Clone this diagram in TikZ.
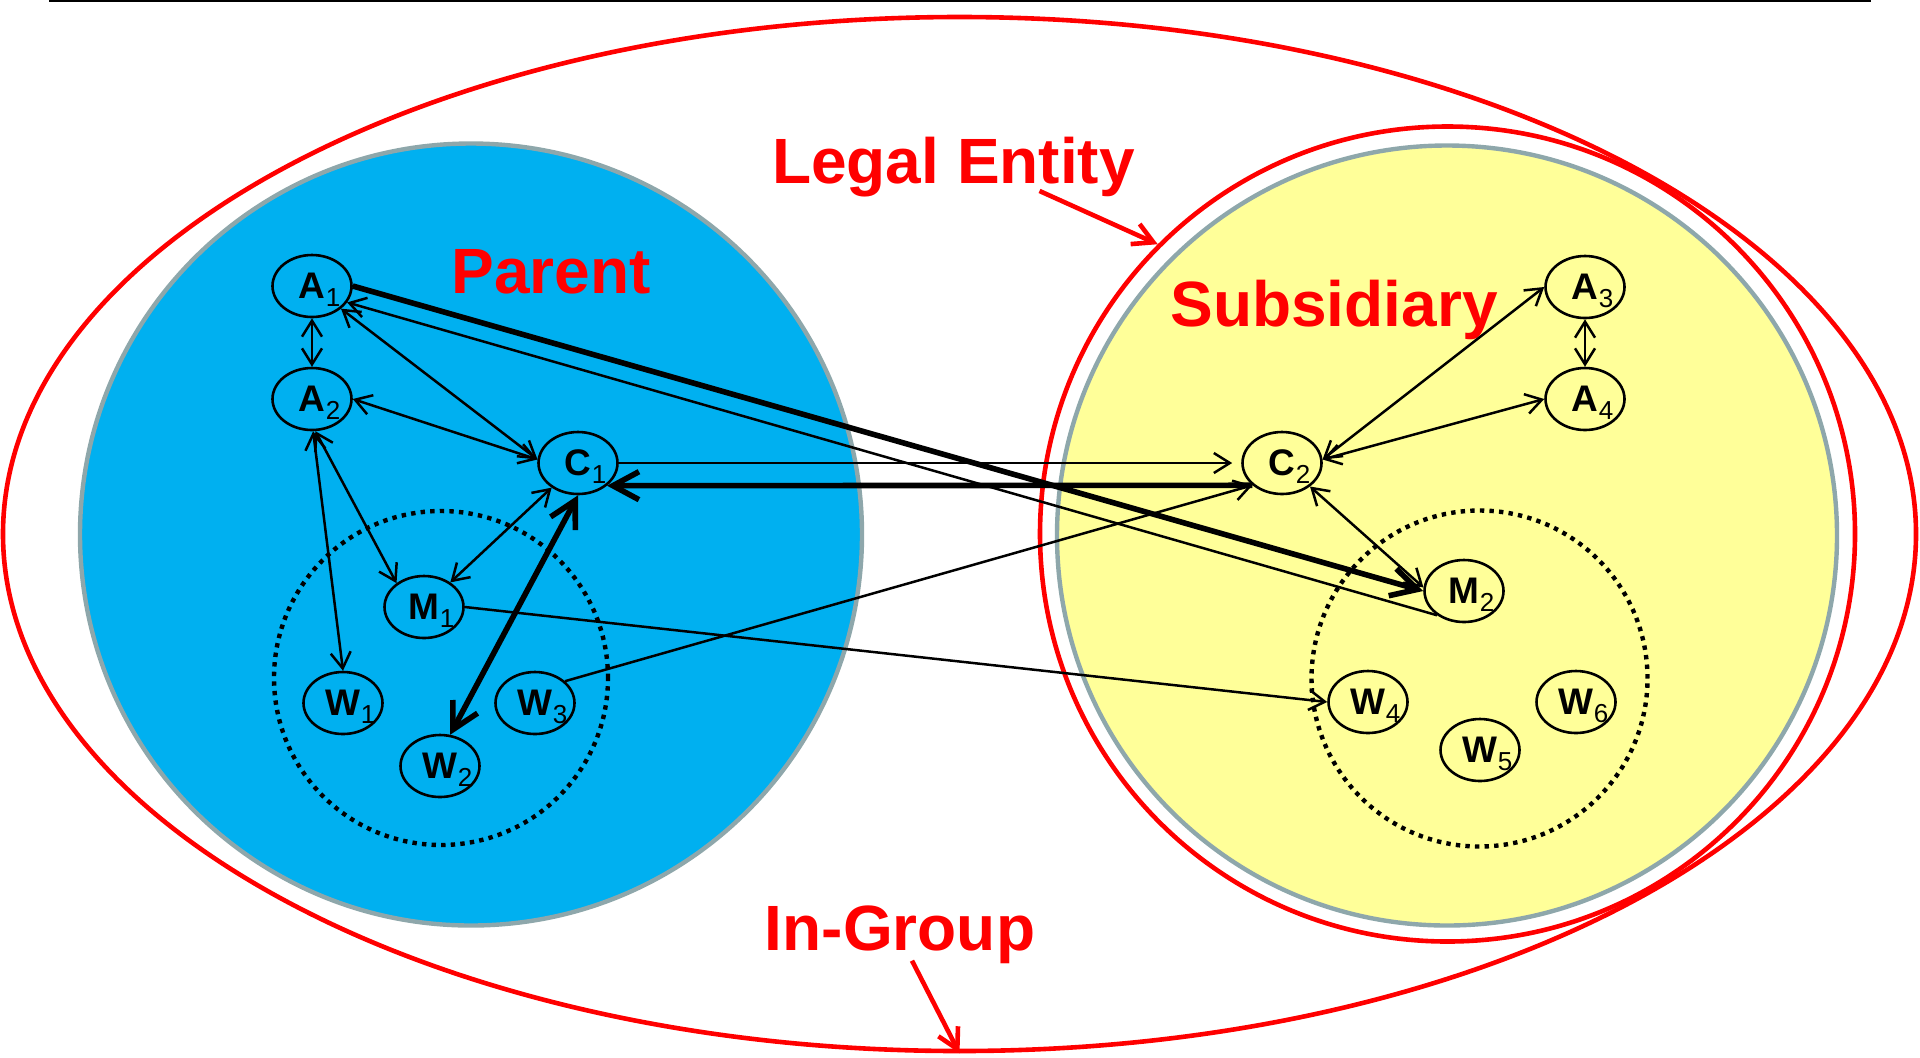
\documentclass[tikz,border=0pt]{standalone}
\usepackage{fontspec}
\setmainfont{Liberation Sans}
\usetikzlibrary{arrows.meta,shapes.geometric}

\definecolor{parentblue}{RGB}{0,176,240}
\definecolor{subyellow}{RGB}{255,255,153}
\definecolor{rimgray}{RGB}{142,167,171}

% letter with a lowered, regular-weight index hanging to its right
\newcommand\agent[2]{#1\rlap{\smash{\raisebox{-4pt}{\mdseries\fontsize{13}{13}\selectfont\kern0.2pt#2}}}}

\tikzset{
  tipS/.tip={Straight Barb[length=8pt,width=10pt]},
  tipL/.tip={Straight Barb[length=13pt,width=14pt]},
  tipR/.tip={Straight Barb[length=10pt,width=11pt]},
  agentnode/.style={ellipse, draw, line width=1.3pt, minimum width=39.5pt,
    minimum height=31pt, inner sep=0pt, font=\bfseries\fontsize{18.5}{18.5}\selectfont},
  link/.style={line width=1.25pt},
  heavy/.style={line width=2.8pt},
  callout/.style={red, line width=2.3pt, -tipR},
  title/.style={red, inner sep=0pt, font=\bfseries\fontsize{32}{32}\selectfont},
  dotring/.style={circle, draw, line width=2.2pt, dash pattern=on 2.2pt off 2.6pt, inner sep=0pt},
  company/.style={circle, draw=rimgray, line width=2.2pt, inner sep=0pt},
}

\begin{document}
\begin{tikzpicture}[x=0.5pt,y=-0.5pt]
\useasboundingbox (0,0) rectangle (1920,1057);

% rule along the top
\draw[line width=1.3pt] (49,1) -- (1871,1);

% companies and groupings
\node[company, fill=parentblue, minimum size=391pt] (parent) at (471,534.5) {};
\node[circle, draw=red, line width=2.3pt, minimum size=407.5pt, inner sep=0pt] (legal) at (1447.5,534) {};
\node[company, fill=subyellow, minimum size=390pt] (subsid) at (1447,535.5) {};
\node[ellipse, draw=red, line width=2.3pt, minimum width=956.5pt, minimum height=517pt, inner sep=0pt] (ingroup) at (959.5,534) {};

\node[dotring, minimum size=167pt] (poolL) at (441,678) {};
\node[dotring, minimum size=168pt] (poolR) at (1479.5,678.5) {};

% titles
\node[title, anchor=base] (parentlab) at (551,293) {Parent};
\node[title, anchor=base] (sublab) at (1334,326) {Subsidiary};
\node[title, anchor=base] (legallab) at (953.5,183) {Legal Entity};
\node[title, anchor=base] (grouplab) at (900,950) {In-Group};

\draw[callout] ([xshift=43pt,yshift=3pt]legallab.south) -- (legal.135);
\draw[callout] ([xshift=6pt,yshift=1.5pt]grouplab.south) -- (ingroup.south);

% parent side
\node[agentnode] (A1) at (312,286) {\agent{A}{1}};
\node[agentnode] (A2) at (312,399) {\agent{A}{2}};
\node[agentnode] (C1) at (578,463) {\agent{C}{1}};
\node[agentnode] (M1) at (424,607) {\agent{M}{1}};
\node[agentnode] (W1) at (343,703) {\agent{W}{1}};
\node[agentnode] (W2) at (440,766) {\agent{W}{2}};
\node[agentnode] (W3) at (535,703) {\agent{W}{3}};

% subsidiary side
\node[agentnode] (A3) at (1585,287) {\agent{A}{3}};
\node[agentnode] (A4) at (1585,399) {\agent{A}{4}};
\node[agentnode] (C2) at (1282,463) {\agent{C}{2}};
\node[agentnode] (M2) at (1464,591) {\agent{M}{2}};
\node[agentnode] (W4) at (1368,702) {\agent{W}{4}};
\node[agentnode] (W5) at (1480,750) {\agent{W}{5}};
\node[agentnode] (W6) at (1576,702) {\agent{W}{6}};

% relations
\draw[link, tipS-tipS] (A1) -- (A2);
\draw[link, tipS-tipS] (A1.-38) -- (C1.175);
\draw[link, tipS-tipS] (A2.east) -- (C1.175);
\draw[link, tipS-tipS] (A2.-88) -- (W1.north);
\draw[link, tipS-tipS] (A2.-84) -- (M1.139);
\draw[link, tipS-tipS] (C1) -- (M1);
\draw[heavy, tipL-tipL] (C1.south) -- (W2.72);
\draw[heavy, -tipL] (A1.east) -- (M2.west);
\draw[link, tipS-] (A1.-25) -- (M2.222);
\draw[link, -tipS, shorten >=4.5pt] (C1.east) -- (C2.west);
\draw[heavy, -tipL] (C2.217) -- (C1.-38);
\draw[link, -tipS] (W3.36) -- (C2.217);
\draw[link, -tipS] (M1.east) -- (W4.west);
\draw[link, tipS-tipS] (C2.5) -- (A3.west);
\draw[link, tipS-tipS] (C2.5) -- (A4.west);
\draw[link, tipS-tipS] (A3) -- (A4);
\draw[link, tipS-tipS] (C2.-40) -- (M2.175);
\end{tikzpicture}
\end{document}
